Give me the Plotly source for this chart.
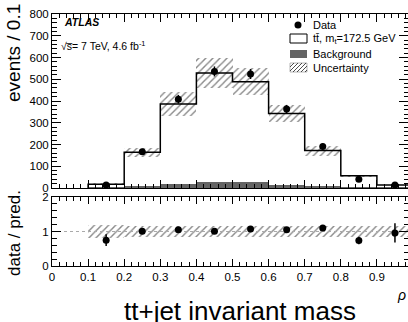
import plotly.graph_objects as go
import numpy as np

# ---- data ----
bin_lo = [0.1, 0.2, 0.3, 0.4, 0.5, 0.6, 0.7, 0.8, 0.9]
bin_width = 0.1
mc_total = [17, 164, 386, 529, 488, 343, 172, 56, 14]
mc_unc = [4, 20, 55, 67, 62, 40, 23, 6, 2]
background = [3, 10, 20, 26, 27, 16, 6, 3, 1]
data = [14, 167, 408, 536, 524, 363, 191, 40, 14]
data_err = [4, 13, 20, 23, 23, 19, 14, 6, 4]
ratio = [0.75, 1.01, 1.05, 1.01, 1.07, 1.05, 1.10, 0.74, 0.96]
ratio_err = [0.17, 0.07, 0.05, 0.04, 0.05, 0.05, 0.07, 0.11, 0.28]
ratio_unc = [0.18, 0.15, 0.15, 0.15, 0.15, 0.15, 0.15, 0.15, 0.16]

centers = [b + bin_width / 2 for b in bin_lo]
edges = bin_lo + [bin_lo[-1] + bin_width]

FONT = "Liberation Sans, Arial, Helvetica, sans-serif"
W, H = 408, 322
ML, MR, MT, MB = 52, 0, 14, 56
PW, PH = W - ML - MR, H - MT - MB


def px(p):
    return (p - ML) / PW


def py(p):
    return (H - MB - p) / PH


HATCH = dict(shape="/", size=5, solidity=0.28, fgcolor="#111", bgcolor="rgba(0,0,0,0)")

fig = go.Figure()

# background (gray)
fig.add_trace(go.Bar(x=centers, y=background, width=bin_width, xaxis="x", yaxis="y",
                     marker=dict(color="#646464", line=dict(width=0)), showlegend=False))
# total prediction step outline
step_x = [edges[0]] + edges
step_y = [0] + mc_total + [mc_total[-1]]
fig.add_trace(go.Scatter(x=step_x, y=step_y, mode="lines", line=dict(shape="hv", color="black", width=1.5),
                         xaxis="x", yaxis="y", showlegend=False))
fig.add_trace(go.Scatter(x=[edges[-1], edges[-1]], y=[mc_total[-1], 0], mode="lines",
                         line=dict(color="black", width=1.5), xaxis="x", yaxis="y", showlegend=False))
# uncertainty band (hatched)
fig.add_trace(go.Bar(x=centers, y=[2 * u for u in mc_unc], base=[m - u for m, u in zip(mc_total, mc_unc)],
                     width=bin_width, xaxis="x", yaxis="y",
                     marker=dict(color="rgba(0,0,0,0)", line=dict(width=0), pattern=HATCH),
                     showlegend=False))
# data
fig.add_trace(go.Scatter(x=centers, y=data, mode="markers", xaxis="x", yaxis="y",
                         marker=dict(color="black", size=7),
                         error_y=dict(type="data", array=data_err, color="black", thickness=1.5, width=0),
                         showlegend=False))

# ratio panel
fig.add_trace(go.Scatter(x=[0, 1], y=[1, 1], mode="lines", xaxis="x2", yaxis="y2",
                         line=dict(color="#aaaaaa", width=1.2, dash="dot"), showlegend=False))
fig.add_trace(go.Bar(x=centers, y=[2 * u for u in ratio_unc], base=[1 - u for u in ratio_unc],
                     width=bin_width, xaxis="x2", yaxis="y2",
                     marker=dict(color="rgba(0,0,0,0)", line=dict(width=0), pattern=HATCH),
                     showlegend=False))
fig.add_trace(go.Scatter(x=centers, y=ratio, mode="markers", xaxis="x2", yaxis="y2",
                         marker=dict(color="black", size=7),
                         error_y=dict(type="data", array=ratio_err, color="black", thickness=1.5, width=0),
                         showlegend=False))

xr = [0, (W - ML) / 361 * 1.0]
axis_common = dict(showline=True, linecolor="black", linewidth=1, mirror="ticks", ticks="inside",
                   tickcolor="black", showgrid=False, zeroline=False,
                   tickfont=dict(family=FONT, size=11.5, color="black"))

fig.update_layout(
    width=W, height=H, margin=dict(l=ML, r=MR, t=MT, b=MB),
    paper_bgcolor="white", plot_bgcolor="white", barmode="overlay", bargap=0,
    font=dict(family=FONT, color="black"),
    xaxis=dict(domain=[0, 1], anchor="y", range=xr, dtick=0.1, tick0=0, ticklen=8,
               showticklabels=False, minor=dict(ticks="inside", dtick=0.02, ticklen=4, tickcolor="black"),
               **axis_common),
    yaxis=dict(domain=[py(188), 1], anchor="x", range=[0, 800], dtick=100, ticklen=9,
               minor=dict(ticks="inside", dtick=20, ticklen=4.5, tickcolor="black"), **axis_common),
    xaxis2=dict(domain=[0, 1], anchor="y2", range=xr, dtick=0.1, tick0=0, ticklen=7,
                minor=dict(ticks="inside", dtick=0.02, ticklen=4, tickcolor="black"), **axis_common),
    yaxis2=dict(domain=[0, py(197)], anchor="x2", range=[0, 2], dtick=1, ticklen=9,
                minor=dict(ticks="inside", dtick=0.2, ticklen=4.5, tickcolor="black"), **axis_common),
)

ann = []
ann.append(dict(text="events / 0.1", xref="paper", yref="paper", x=px(14), y=py(2), xanchor="center",
                yanchor="top", textangle=-90, showarrow=False, font=dict(family=FONT, size=19)))
ann.append(dict(text="data / pred.", xref="paper", yref="paper", x=px(14), y=py(233), xanchor="center",
                yanchor="middle", textangle=-90, showarrow=False, font=dict(family=FONT, size=17)))
ann.append(dict(text="tt+jet invariant mass", xref="paper", yref="paper", x=px(240), y=py(311),
                xanchor="center", yanchor="middle", showarrow=False, font=dict(family=FONT, size=26)))
ann.append(dict(text="<i>ρ</i>", xref="paper", yref="paper", x=px(401), y=py(295),
                xanchor="center", yanchor="middle", showarrow=False, font=dict(family=FONT, size=14)))
ann.append(dict(text="<b><i>ATLAS</i></b>", xref="paper", yref="paper", x=px(62), y=py(22),
                xanchor="left", yanchor="middle", showarrow=False, font=dict(family=FONT, size=10.5)))
ann.append(dict(text="√s\u0305= 7 TeV, 4.6 fb<sup>-1</sup>", xref="paper", yref="paper", x=px(59), y=py(45),
                xanchor="left", yanchor="middle", showarrow=False, font=dict(family=FONT, size=10.5)))

# legend (manual)
leg_text = ["Data", "tt\u0304, m<sub>t</sub>=172.5 GeV", "Background", "Uncertainty"]
leg_y = [25, 38.5, 54, 67.5]
for t, yy in zip(leg_text, leg_y):
    ann.append(dict(text=t, xref="paper", yref="paper", x=px(311), y=py(yy), xanchor="left",
                    yanchor="middle", showarrow=False, font=dict(family=FONT, size=11)))

shapes = []
shapes.append(dict(type="circle", xref="paper", yref="paper", x0=px(294.5), x1=px(301.5),
                   y0=py(21.5), y1=py(28.5), fillcolor="black", line=dict(width=0)))
shapes.append(dict(type="rect", xref="paper", yref="paper", x0=px(290), x1=px(307), y0=py(34), y1=py(43),
                   fillcolor="white", line=dict(color="black", width=1)))
shapes.append(dict(type="rect", xref="paper", yref="paper", x0=px(290), x1=px(307), y0=py(50), y1=py(58),
                   fillcolor="#646464", line=dict(width=0)))
shapes.append(dict(type="rect", xref="paper", yref="paper", x0=px(290), x1=px(307), y0=py(63), y1=py(72),
                   fillcolor="rgba(0,0,0,0)", line=dict(color="#888", width=0.6)))
# hatch lines in legend box
path = ""
for k in range(-9, 17, 4):
    xa, ya, xb, yb = 290 + k, 72, 290 + k + 9, 63
    if xa < 290:
        ya = 72 - (290 - xa); xa = 290
    if xb > 307:
        yb = 63 + (xb - 307); xb = 307
    if xb > xa:
        path += f"M {px(xa)} {py(ya)} L {px(xb)} {py(yb)} "
shapes.append(dict(type="path", xref="paper", yref="paper", path=path, line=dict(color="#222", width=0.8)))

fig.update_layout(annotations=ann, shapes=shapes)
fig.write_html("out.html")
